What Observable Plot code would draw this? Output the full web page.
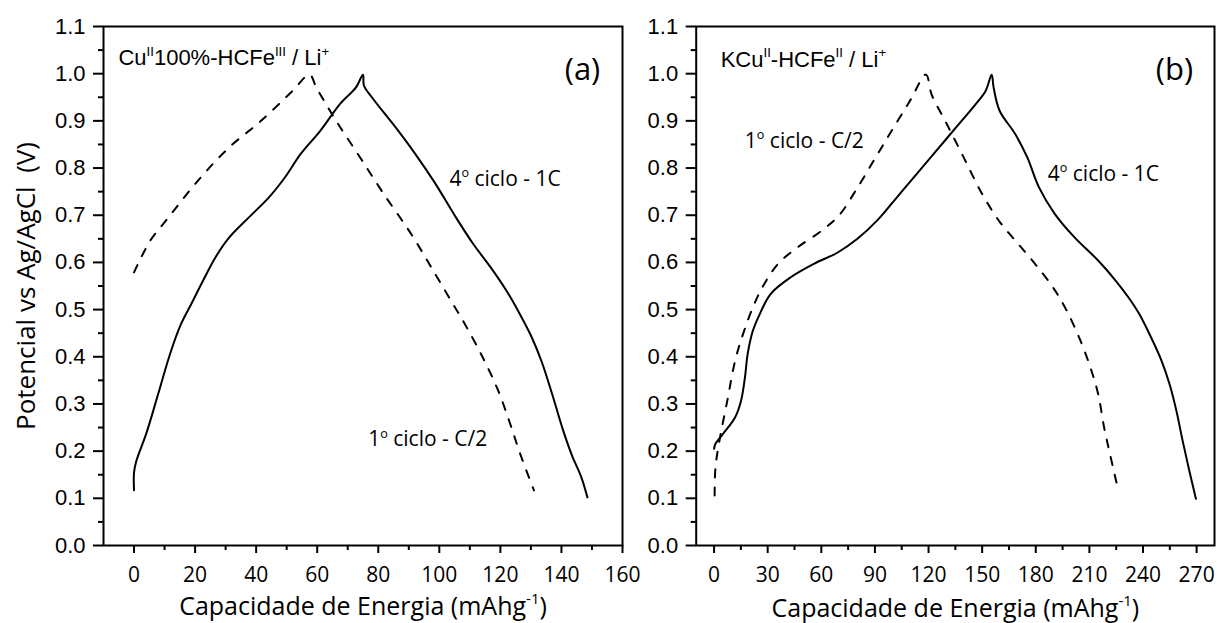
<!DOCTYPE html>
<html><head><meta charset="utf-8">
<script src="https://cdn.jsdelivr.net/npm/d3@7"></script>
<script src="https://cdn.jsdelivr.net/npm/@observablehq/plot@0.6"></script>
<style>
html,body{margin:0;padding:0;background:#fff;}
#wrap{position:relative;width:1217px;height:623px;overflow:hidden;background:#fff;}
#wrap svg{position:absolute;top:0;}
svg text{white-space:pre;}
</style></head><body><div id="wrap"></div>
<script>
// ---------- data: panel (a) Cu(II)100%-HCFe(III) ----------
const aSolidX = [0, 0, 0.8, 4.0, 7.9, 11.8, 15.3, 19.0, 22.5, 26.7, 31.2, 37.7, 44.2, 49.4, 54.6, 61.0, 67.5, 72.7, 75.0, 75.3, 77.9, 85.7, 92.1, 98.6, 105.0, 111.0, 117.0, 122.0, 126.0, 130.0, 133.5, 137.0, 140.5, 143.5, 146.5, 148.5];
const aSolidY = [0.117, 0.155, 0.18, 0.237, 0.321, 0.406, 0.468, 0.515, 0.56, 0.611, 0.653, 0.696, 0.738, 0.78, 0.83, 0.879, 0.936, 0.971, 0.998, 0.975, 0.95, 0.886, 0.83, 0.768, 0.700, 0.640, 0.588, 0.540, 0.495, 0.445, 0.39, 0.32, 0.245, 0.19, 0.145, 0.102];
const aDashX = [0, 5.3, 10.5, 20.9, 31.2, 41.6, 52.0, 57.5, 59.7, 66.2, 74.0, 81.8, 90.8, 98.6, 105.1, 107.7, 114.2, 119.3, 123.2, 126.5, 131.0];
const aDashY = [0.579, 0.646, 0.689, 0.773, 0.844, 0.9, 0.964, 0.998, 0.971, 0.900, 0.823, 0.745, 0.660, 0.576, 0.505, 0.477, 0.399, 0.328, 0.258, 0.194, 0.117];

// ---------- data: panel (b) KCu(II)-HCFe(II) ----------
const bSolidX = [0, 0.7, 5.1, 11.8, 15.1, 17.3, 18.8, 21.7, 25.5, 31.6, 42.7, 55.9, 69.2, 80.2, 91.3, 102.3, 113.3, 124.4, 135.4, 146.5, 152.0, 155.3, 156.4, 159.7, 168.5, 175.2, 181.8, 190.6, 201.7, 214.9, 225.0, 232.0, 238.0, 244.0, 250.0, 255.0, 259.0, 262.0, 265.5, 269.6];
const bSolidY = [0.205, 0.215, 0.237, 0.272, 0.307, 0.357, 0.406, 0.455, 0.49, 0.533, 0.568, 0.597, 0.621, 0.650, 0.689, 0.738, 0.787, 0.837, 0.886, 0.936, 0.964, 0.998, 0.971, 0.922, 0.872, 0.823, 0.759, 0.703, 0.653, 0.604, 0.56, 0.525, 0.49, 0.445, 0.395, 0.34, 0.28, 0.225, 0.165, 0.099];
const bDashX = [0.3, 0.8, 3.0, 7.4, 11.8, 16.2, 21.0, 27.0, 35.8, 46.8, 60.1, 70.0, 80.0, 90.0, 100.0, 110.0, 118.5, 121.8, 130.0, 140.0, 150.0, 160.0, 170.0, 180.0, 190.0, 197.0, 205.0, 210.5, 214.9, 218.2, 221.5, 226.4];
const bDashY = [0.106, 0.166, 0.222, 0.307, 0.392, 0.448, 0.498, 0.547, 0.597, 0.632, 0.667, 0.700, 0.757, 0.820, 0.883, 0.945, 0.998, 0.955, 0.895, 0.820, 0.745, 0.685, 0.640, 0.595, 0.545, 0.500, 0.434, 0.378, 0.321, 0.251, 0.194, 0.113];

// ---------- ticks ----------
const yMajor = [0, 0.1, 0.2, 0.3, 0.4, 0.5, 0.6, 0.7, 0.8, 0.9, 1.0, 1.1];
const yMinor = [0.05, 0.15, 0.25, 0.35, 0.45, 0.55, 0.65, 0.75, 0.85, 0.95, 1.05];
const xMajorA = [0, 20, 40, 60, 80, 100, 120, 140, 160];
const xMinorA = [10, 30, 50, 70, 90, 110, 130, 150];
const xMajorB = [0, 30, 60, 90, 120, 150, 180, 210, 240, 270];
const xMinorB = [15, 45, 75, 105, 135, 165, 195, 225, 255];

// ---------- texts ----------
const xTitle = "Capacidade de Energia (mAhg^{-1})";
const yTitle = "Potencial vs Ag/AgCl  (V)";
const compA = [{x: -5.1, y: 1.019, t: "Cu^{II}100%-HCFe^{III} / Li^{+}"}];
const compB = [{x: 3.7, y: 1.015, t: "KCu^{II}-HCFe^{II} / Li^{+}"}];
const cycA = [{x: 103.3, y: 0.763, t: "4^{o} ciclo - 1C"}, {x: 76.7, y: 0.210, t: "1^{o} ciclo - C/2"}];
const cycB = [{x: 186.7, y: 0.773, t: "4^{o} ciclo - 1C"}, {x: 17.2, y: 0.843, t: "1^{o} ciclo - C/2"}];
const tagA = [{x: 146.9, y: 0.987, t: "(a)"}];
const tagB = [{x: 257.6, y: 0.987, t: "(b)"}];

const rows = (xs, ys) => xs.map((x, i) => ({x, y: ys[i]}));

function panel({width, left, mL, mR, xDomain, xMajor, xMinor, solid, dash, comp, cyc, tag, withYTitle, xTitleDy}) {
  const marks = [
    Plot.axisY({ticks: yMajor, tickSize: 10, tickPadding: 8, tickFormat: d3.format(".1f"), label: null,
      fontSize: 22, fontFamily: "Liberation Sans", strokeWidth: 2}),
    Plot.axisY({ticks: yMinor, tickSize: 5, text: null, label: null, strokeWidth: 2}),
    Plot.axisX({ticks: xMajor, tickSize: 8, tickPadding: 14, tickFormat: d3.format("d"), label: null,
      fontSize: 21, fontFamily: "Open Sans", strokeWidth: 2}),
    Plot.axisX({ticks: xMinor, tickSize: 5, text: null, label: null, strokeWidth: 2}),
    Plot.frame({stroke: "black", strokeWidth: 2}),
    Plot.line(rows(solid[0], solid[1]), {x: "x", y: "y", stroke: "black", strokeWidth: 2, curve: "catmull-rom"}),
    Plot.line(rows(dash[0], dash[1]), {x: "x", y: "y", stroke: "black", strokeWidth: 2, strokeDasharray: "8,10", curve: "catmull-rom"}),
    Plot.text(comp, {x: "x", y: "y", text: "t", textAnchor: "start", lineAnchor: "bottom", fontSize: 22, fontFamily: "Liberation Sans", fill: "black"}),
    Plot.text(cyc, {x: "x", y: "y", text: "t", textAnchor: "start", lineAnchor: "bottom", fontSize: 21, fontFamily: "Open Sans", fill: "black"}),
    Plot.text(tag, {x: "x", y: "y", text: "t", textAnchor: "middle", lineAnchor: "bottom", fontSize: 31, fontFamily: "Open Sans", fill: "black"}),
    Plot.text([xTitle], {text: d => d, frameAnchor: "bottom", dy: xTitleDy, lineAnchor: "bottom", fontSize: 25, fontFamily: "Open Sans", fill: "black"})
  ];
  if (withYTitle) marks.push(Plot.text([yTitle], {text: d => d, frameAnchor: "left", rotate: -90, dx: -69, textAnchor: "middle", lineAnchor: "bottom", fontSize: 26, fontFamily: "Open Sans", fill: "black"}));
  const svg = Plot.plot({
    width, height: 623, marginLeft: mL, marginRight: mR, marginTop: 26, marginBottom: 78,
    x: {domain: xDomain}, y: {domain: [0, 1.1]},
    style: {background: "transparent", color: "black", fontFamily: "Open Sans", overflow: "visible"},
    marks
  });
  svg.style.left = left + "px";
  document.getElementById("wrap").appendChild(svg);
  richify(svg);
  return svg;
}

function richify(svg) {
  d3.select(svg).selectAll("text").each(function () {
    const t = this.textContent;
    if (!t || !t.includes("^{")) return;
    const fs = parseFloat(getComputedStyle(this).fontSize) || 20;
    const parts = t.split(/(\^\{[^}]*\})/).filter(p => p.length);
    this.textContent = "";
    let raised = false;
    for (const p of parts) {
      const ts = document.createElementNS("http://www.w3.org/2000/svg", "tspan");
      if (p.startsWith("^{")) {
        ts.textContent = p.slice(2, -1);
        ts.setAttribute("font-size", (fs * 0.6).toFixed(1));
        ts.setAttribute("dy", (-fs * 0.42).toFixed(1));
        raised = true;
      } else {
        ts.textContent = p;
        if (raised) { ts.setAttribute("dy", (fs * 0.42).toFixed(1)); raised = false; }
      }
      this.appendChild(ts);
    }
  });
}

panel({width: 640, left: 0, mL: 103, mR: 18, xDomain: [-10, 160], xMajor: xMajorA, xMinor: xMinorA,
  solid: [aSolidX, aSolidY], dash: [aDashX, aDashY], comp: compA, cyc: cycA, tag: tagA, withYTitle: true, xTitleDy: 69});
panel({width: 577, left: 640, mL: 55.7, mR: 3, xDomain: [-10, 280], xMajor: xMajorB, xMinor: xMinorB,
  solid: [bSolidX, bSolidY], dash: [bDashX, bDashY], comp: compB, cyc: cycB, tag: tagB, withYTitle: false, xTitleDy: 71});
</script></body></html>
